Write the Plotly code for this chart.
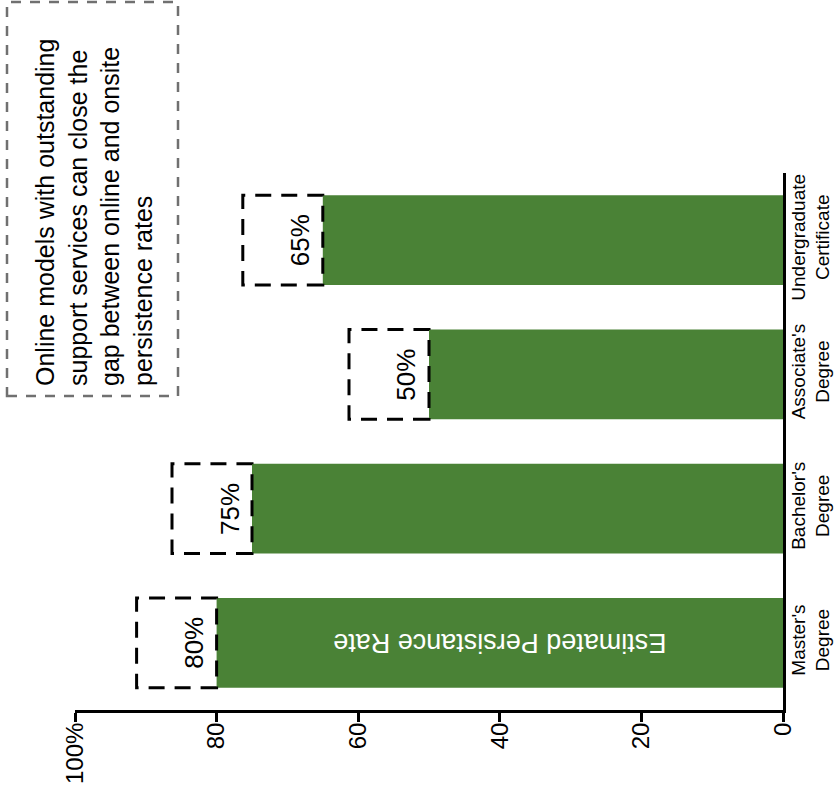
import plotly.graph_objects as go

categories = ["Master's<br>Degree", "Bachelor's<br>Degree", "Associate's<br>Degree", "Undergraduate<br>Certificate"]
rates = [80, 75, 50, 65]
rate_labels = ["80%", "75%", "50%", "65%"]
bar_texts = ["Estimated Persistance Rate", "", "", ""]
tick_vals = [100, 80, 60, 40, 20, 0]
tick_text = ["100%", "80", "60", "40", "20", "0"]
note_text = ("Online models with outstanding<br>support services can close the<br>"
             "gap between online and onsite<br>persistence rates")

FONT = "Liberation Sans, Arial, sans-serif"
GREEN = "#4a8236"
BAR_W = 0.667
BOX_EXT = 11.3

fig = go.Figure()
fig.add_trace(go.Bar(
    y=categories, x=rates, orientation="h",
    marker=dict(color=GREEN, line=dict(width=0)),
    width=BAR_W,
    text=bar_texts, textposition="inside", insidetextanchor="middle",
    textangle=180, constraintext="none",
    textfont=dict(family=FONT, size=27, color="white"),
    hoverinfo="skip",
))

shapes = []
annotations = []
for i, (v, lab) in enumerate(zip(rates, rate_labels)):
    shapes.append(dict(type="rect", xref="x", yref="y",
                       x0=v, x1=v + BOX_EXT, y0=i - BAR_W / 2, y1=i + BAR_W / 2,
                       line=dict(color="black", width=3, dash="16px,10px"),
                       fillcolor="rgba(0,0,0,0)", layer="above"))
    annotations.append(dict(xref="x", yref="y", x=v + 3.2, y=categories[i],
                            text=lab, showarrow=False, textangle=-90,
                            xanchor="center", yanchor="middle",
                            font=dict(family=FONT, size=26, color="black")))

# note box (paper coords)
L, R, T, B = 75, 783, 173, 710
PW, PH = R - L, B - T
def px(xp):
    return (xp - L) / PW
def py(yp):
    return (B - yp) / PH

shapes.append(dict(type="rect", xref="paper", yref="paper",
                   x0=px(7), x1=px(178), y0=py(396), y1=py(2),
                   line=dict(color="#707070", width=2.5, dash="10px,9px"),
                   fillcolor="rgba(0,0,0,0)"))
annotations.append(dict(xref="paper", yref="paper", x=px(94), y=py(213),
                        text=note_text, showarrow=False, textangle=-90,
                        align="left", xanchor="center", yanchor="middle",
                        font=dict(family=FONT, size=25, color="black")))

fig.update_layout(
    width=835, height=798,
    margin=dict(l=L, r=835 - R, t=T, b=798 - B, pad=0, autoexpand=False),
    paper_bgcolor="white", plot_bgcolor="white",
    showlegend=False,
    font=dict(family=FONT, color="black"),
    shapes=shapes, annotations=annotations,
    xaxis=dict(range=[100, 0], tickvals=tick_vals, ticktext=tick_text,
               tickangle=-90, ticks="outside", ticklen=9, tickwidth=3,
               tickcolor="black", showline=True, linewidth=3, linecolor="black",
               showgrid=False, zeroline=False, automargin=False,
               ticklabelstandoff=-9,
               tickfont=dict(family=FONT, size=24, color="black")),
    yaxis=dict(range=[-0.5, 3.5], side="right", tickangle=-90,
               showline=True, linewidth=3, linecolor="black",
               ticks="", showgrid=False, zeroline=False, automargin=False,
               ticklabelstandoff=-4,
               tickfont=dict(family=FONT, size=19, color="black")),
)

fig.write_html("out.html", config={"displayModeBar": False},
               post_script="document.body.style.margin='0';document.body.style.overflow='hidden';")
